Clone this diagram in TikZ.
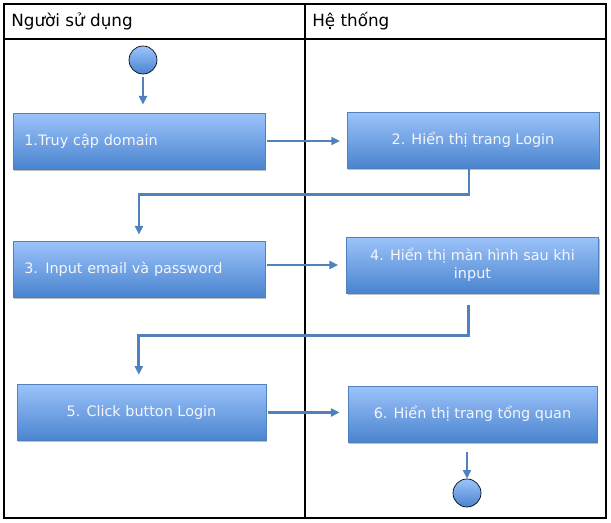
\documentclass[tikz,border=0pt]{standalone}
\usepackage{fontspec}
\setmainfont{DejaVu Sans}
\usepackage{xcolor}
\usepackage{tikz}
\usetikzlibrary{arrows.meta,shadows}
\definecolor{flowblue}{HTML}{4F81BD}
\definecolor{boxtop}{HTML}{9CC3FA}
\definecolor{boxbottom}{HTML}{4A84CF}
\definecolor{boxtext}{HTML}{F4F6FA}
\tikzset{%
  actbox/.style={draw=flowblue, line width=0.6pt, rectangle, top color=boxtop, bottom color=boxbottom, minimum width=189pt, minimum height=42pt, text=boxtext, align=center, font=\fontsize{10.8pt}{13.5pt}\selectfont, drop shadow={shadow xshift=0.8pt, shadow yshift=-1.2pt, opacity=0.25, fill=black}},%
  leftbox/.style={actbox, text width=172pt, inner xsep=8.5pt, align=left},%
  terminal/.style={draw=black, line width=0.5pt, circle, minimum size=21pt, inner sep=0pt, top color=boxtop, bottom color=boxbottom},%
  flow/.style={draw=flowblue, line width=2.2pt, -{Triangle[length=6.5pt, width=6pt]}},%
  lane/.style={draw=black, line width=0.9pt},%
  lanetitle/.style={anchor=west, inner sep=0pt, font=\fontsize{12.6pt}{15pt}\selectfont}%
}

\begin{document}
\begin{tikzpicture}[x=0.75pt, y=-0.75pt]%
\useasboundingbox (0,0) rectangle (611,522);%
\draw[lane] (4,4) rectangle (606,518);%
\draw[lane] (4,39) -- (606,39);%
\draw[lane] (305,4) -- (305,518);%
\node[lanetitle] (user) at (11,21) {Người sử dụng};%
\node[lanetitle] (system) at (312,21) {Hệ thống};%
\node[terminal] (start) at (143,60) {};%
\node[leftbox] (access) at (139,141) {1.Truy cập domain};%
\node[actbox] (showlogin) at (473,140) {2. Hiển thị trang Login};%
\node[leftbox] (input) at (139,269) {3. Input email và password};%
\node[actbox] (showafter) at (472.5,265) {4. Hiển thị màn hình sau khi\\input};%
\node[actbox, minimum width=186.75pt] (click) at (141.5,412.5) {5. Click button Login};%
\node[actbox, minimum width=186.75pt] (overview) at (472.5,414) {6. Hiển thị trang tổng quan};%
\node[terminal] (stop) at (467,493) {};%
\draw[flow, shorten <=2pt, shorten >=6pt] (start) -- (start |- access.north);%
\draw[flow, shorten <=1.5pt, shorten >=5pt] (access.east) -- (access.east -| showlogin.west);%
\draw[flow, shorten >=4.5pt] ([xshift=-3pt]showlogin.south) -- ++(0,26) -| (input.north);%
\draw[flow, shorten <=1.5pt, shorten >=6pt] (input.east |- showafter.west) -- (showafter.west);%
\draw[flow, shorten <=9pt, shorten >=7pt] ([xshift=-3pt]showafter.south) -- ++(0,42) -| ([xshift=-2pt]click.north);%
\draw[flow, shorten <=1.5pt, shorten >=6pt] (click.east) -- (click.east -| overview.west);%
\draw[flow, shorten <=7pt] (stop |- overview.south) -- (stop);%
\end{tikzpicture}
\end{document}
